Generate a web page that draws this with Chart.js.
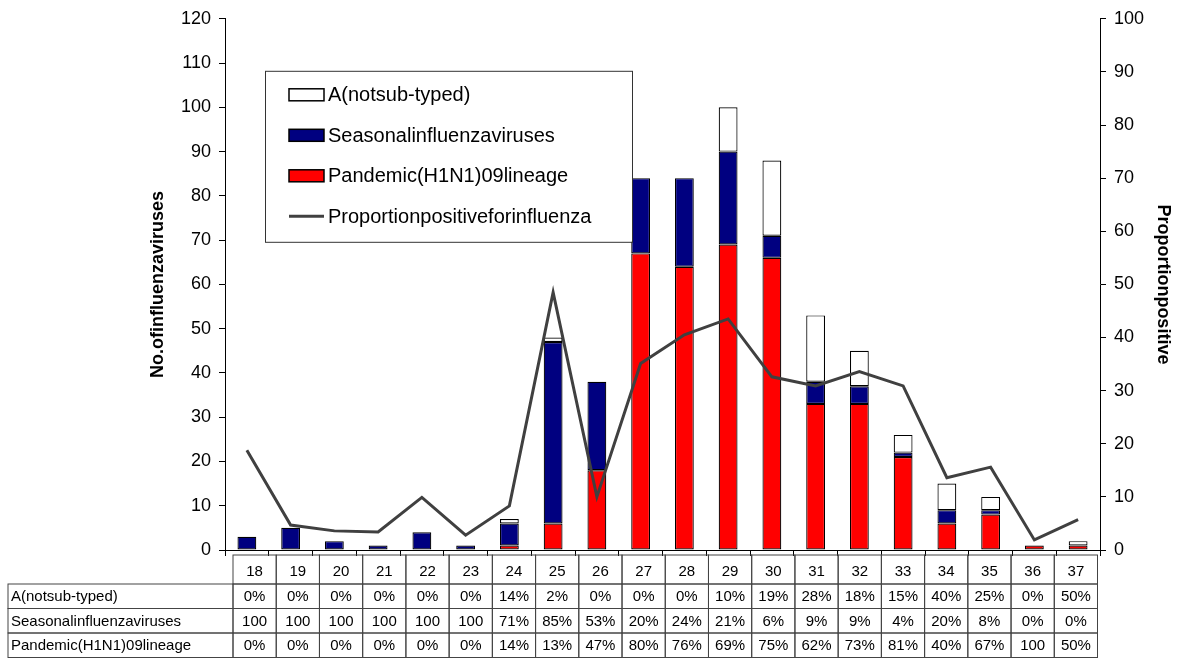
<!DOCTYPE html>
<html>
<head>
<meta charset="utf-8">
<script src="https://cdn.jsdelivr.net/npm/chart.js@4.4.0/dist/chart.umd.min.js"></script>
<style>
  body { margin: 0; background: #fff; }
  #wrap { position: relative; width: 1181px; height: 660px; }
</style>
</head>
<body>
<div id="wrap"><canvas id="chart"></canvas></div>
<script>
var weeks = ["18","19","20","21","22","23","24","25","26","27","28","29","30","31","32","33","34","35","36","37"];

// numbers of viruses per week
var pandemic    = [0,0,0,0,0,0,1,6,18,67,64,69,66,33,33,21,6,8,1,1];
var seasonal    = [3,5,2,1,4,1,5,41,20,17,20,21,5,5,4,1,3,1,0,0];
var notSubtyped = [0,0,0,0,0,0,1,1,0,0,0,10,17,15,8,4,6,3,0,1];

// proportion positive (right axis)
var proportion = [18.8,4.7,3.6,3.4,9.9,2.8,8.3,48.5,10.0,35.1,40.5,43.5,32.6,30.9,33.6,30.9,13.6,15.6,1.9,5.7];

// table below the chart
var pctNotSubtyped = [0,0,0,0,0,0,14,2,0,0,0,10,19,28,18,15,40,25,0,50];
var pctSeasonal    = [100,100,100,100,100,100,71,85,53,20,24,21,6,9,9,4,20,8,0,0];
var pctPandemic    = [0,0,0,0,0,0,14,13,47,80,76,69,75,62,73,81,40,67,100,50];

var FONT = "'Liberation Sans', Arial, sans-serif";
Chart.defaults.font.family = FONT;
Chart.defaults.color = "#000";

function fmt(v) { return v === 100 ? "100" : v + "%"; }
// empty segments are left out so they don't leave a border line
function noZero(arr) { return arr.map(function(v) { return v === 0 ? null : v; }); }

var legendBox = {
  id: "legendBox",
  afterDraw: function(chart) {
    var ctx = chart.ctx, a = chart.chartArea;
    var x0 = a.left + 40, y0 = a.top + 52, w = 367, h = 171;
    ctx.save();
    ctx.fillStyle = "#fff";
    ctx.fillRect(x0, y0, w, h);
    ctx.strokeStyle = "#333";
    ctx.lineWidth = 1;
    ctx.strokeRect(x0 + 0.5, y0 + 0.5, w, h);
    var order = [3, 2, 1, 0];
    ctx.font = "20px " + FONT;
    ctx.textBaseline = "middle";
    ctx.textAlign = "left";
    order.forEach(function(di, k) {
      var ds = chart.data.datasets[di];
      var cy = y0 + 24 + k * 40.5;
      if (ds.type === "line") {
        ctx.strokeStyle = ds.borderColor;
        ctx.lineWidth = 3;
        ctx.beginPath();
        ctx.moveTo(x0 + 24, cy);
        ctx.lineTo(x0 + 59, cy);
        ctx.stroke();
      } else {
        ctx.fillStyle = ds.backgroundColor;
        ctx.fillRect(x0 + 24, cy - 6, 35, 12);
        ctx.strokeStyle = "#000";
        ctx.lineWidth = 1.5;
        ctx.strokeRect(x0 + 24, cy - 6, 35, 12);
      }
      ctx.fillStyle = "#000";
      ctx.fillText(ds.label, x0 + 63, cy + 1);
    });
    ctx.restore();
  }
};

var weekTable = {
  id: "weekTable",
  afterDraw: function(chart) {
    var ctx = chart.ctx, xs = chart.scales.x, a = chart.chartArea;
    var step = xs.getPixelForValue(1) - xs.getPixelForValue(0);
    var cw = step * 0.988;
    var left = a.left + 8;
    var labLeft = 8;
    var top = a.bottom + 5;
    var headH = 29, rowH = 24.5;
    var rows = [
      [chart.data.datasets[3].label, pctNotSubtyped],
      [chart.data.datasets[2].label, pctSeasonal],
      [chart.data.datasets[1].label, pctPandemic]
    ];
    ctx.save();
    ctx.strokeStyle = "#444";
    ctx.lineWidth = 1;
    ctx.font = "15px " + FONT;
    ctx.textBaseline = "middle";
    ctx.fillStyle = "#000";
    weeks.forEach(function(wk, i) {
      var cx = left + i * cw;
      ctx.strokeRect(cx, top, cw, headH);
      ctx.textAlign = "center";
      ctx.fillText(wk, cx + cw / 2, top + headH / 2 + 2);
    });
    rows.forEach(function(r, j) {
      var ry = top + headH + j * rowH;
      ctx.strokeRect(labLeft, ry, left - labLeft, rowH);
      ctx.textAlign = "left";
      ctx.fillText(r[0], labLeft + 3, ry + rowH / 2 + 1);
      ctx.textAlign = "center";
      r[1].forEach(function(v, i) {
        var cx = left + i * cw;
        ctx.strokeRect(cx, ry, cw, rowH);
        ctx.fillText(fmt(v), cx + cw / 2, ry + rowH / 2 + 1);
      });
    });
    ctx.restore();
  }
};

new Chart(document.getElementById("chart"), {
  type: "bar",
  data: {
    labels: weeks,
    datasets: [{
      type: "line",
      label: "Proportionpositiveforinfluenza",
      data: proportion,
      yAxisID: "y1",
      borderColor: "#404040",
      borderWidth: 3,
      pointRadius: 0,
      tension: 0,
      fill: false,
      order: 0
    },{
      label: "Pandemic(H1N1)09lineage",
      data: noZero(pandemic),
      backgroundColor: "#ff0000",
      borderColor: "#000",
      borderWidth: 1.2,
      borderSkipped: false,
      order: 1
    },{
      label: "Seasonalinfluenzaviruses",
      data: noZero(seasonal),
      backgroundColor: "#000080",
      borderColor: "#000",
      borderWidth: 1.2,
      borderSkipped: false,
      order: 1
    },{
      label: "A(notsub-typed)",
      data: noZero(notSubtyped),
      backgroundColor: "#ffffff",
      borderColor: "#000",
      borderWidth: 1.2,
      borderSkipped: false,
      order: 1
    }]
  },
  options: {
    responsive: true,
    maintainAspectRatio: false,
    animation: false,
    barPercentage: 0.43,
    categoryPercentage: 1,
    layout: { padding: { left: 147, right: 7, top: 17, bottom: 100 } },
    plugins: { legend: { display: false }, tooltip: { enabled: false } },
    scales: {
      x: {
        stacked: true,
        offset: true,
        ticks: { display: false },
        grid: { offset: true, drawOnChartArea: false, drawTicks: true, tickLength: 6, color: "#000" },
        border: { display: true, color: "#000", width: 1 },
        afterFit: function(s) { s.height = 10; }
      },
      y: {
        position: "left",
        stacked: true,
        min: 0, max: 120,
        ticks: { stepSize: 10, padding: 8, font: { size: 18 } },
        grid: { drawOnChartArea: false, drawTicks: true, tickLength: 6, color: "#000" },
        border: { display: true, color: "#000", width: 1 },
        title: { display: true, text: "No.ofinfluenzaviruses", padding: 0, font: { size: 18, weight: "bold" } },
        afterFit: function(s) { s.width = 78; }
      },
      y1: {
        position: "right",
        min: 0, max: 100,
        ticks: { stepSize: 10, padding: 8, font: { size: 18 } },
        grid: { drawOnChartArea: false, drawTicks: true, tickLength: 6, color: "#000" },
        border: { display: true, color: "#000", width: 1 },
        title: { display: true, text: "Proportionpositive", padding: 0, font: { size: 18, weight: "bold" } },
        afterFit: function(s) { s.width = 74; }
      }
    }
  },
  plugins: [legendBox, weekTable]
});
</script>
</body>
</html>
